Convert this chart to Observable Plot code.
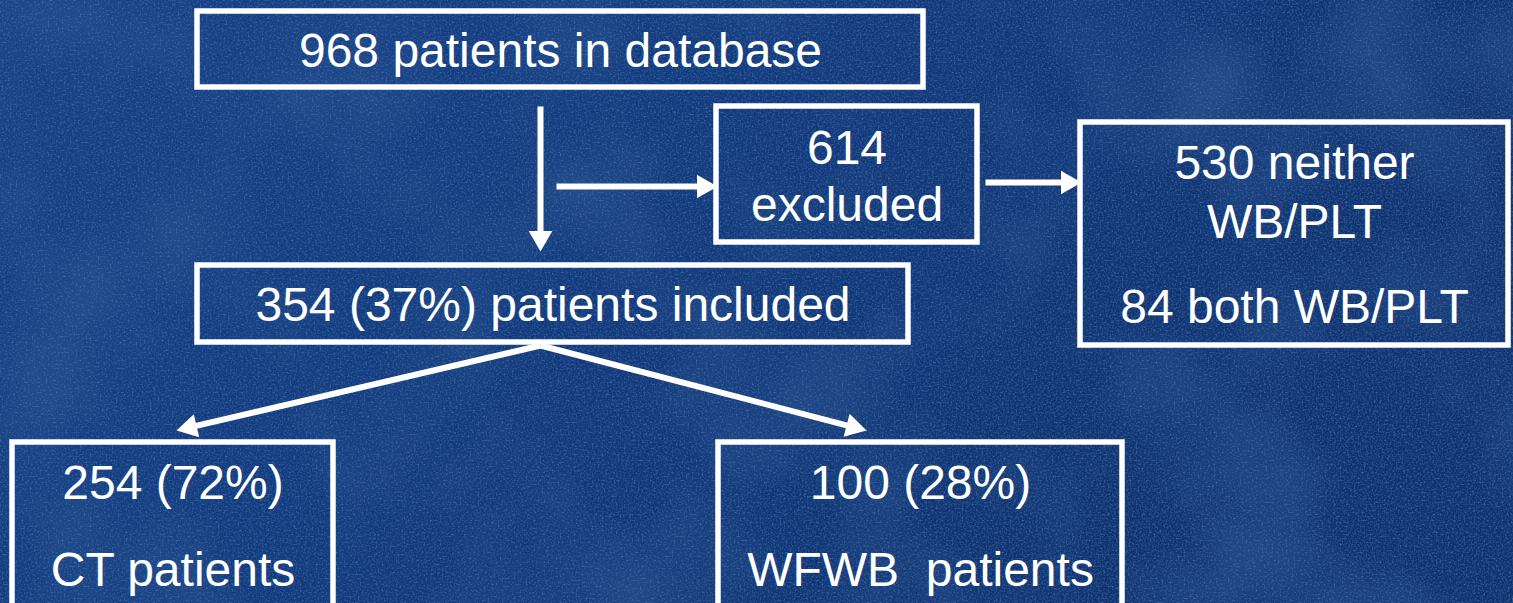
<!DOCTYPE html>
<html>
<head>
<meta charset="utf-8">
<script src="https://cdn.jsdelivr.net/npm/d3@7"></script>
<script src="https://cdn.jsdelivr.net/npm/@observablehq/plot@0.6"></script>
<style>
  html, body { margin: 0; padding: 0; overflow: hidden; background: #11367a; }
  #wrap { position: relative; width: 1513px; height: 603px; overflow: hidden; }
  #bg, #chart { position: absolute; left: 0; top: 0; }
</style>
</head>
<body>
<div id="wrap">
  <svg id="bg" width="1513" height="603">
    <defs>
      <linearGradient id="base" x1="0" y1="0" x2="1" y2="0.35">
        <stop offset="0" stop-color="#15418a"/>
        <stop offset="0.5" stop-color="#11397d"/>
        <stop offset="1" stop-color="#0f316d"/>
      </linearGradient>
      <filter id="mottle" x="0" y="0" width="100%" height="100%">
        <feTurbulence type="fractalNoise" baseFrequency="0.006" numOctaves="3" seed="7"/>
        <feColorMatrix type="matrix" values="0 0 0 0 0.03  0 0 0 0 0.1  0 0 0 0 0.3  2.2 0 0 0 -1.0"/>
      </filter>
      <filter id="dark" x="0" y="0" width="100%" height="100%">
        <feTurbulence type="fractalNoise" baseFrequency="0.55" numOctaves="3" seed="3"/>
        <feColorMatrix type="matrix" values="0 0 0 0 0.02  0 0 0 0 0.08  0 0 0 0 0.25  3 0 0 0 -1.25"/>
      </filter>
      <filter id="light" x="0" y="0" width="100%" height="100%">
        <feTurbulence type="fractalNoise" baseFrequency="0.5" numOctaves="3" seed="11"/>
        <feColorMatrix type="matrix" values="0 0 0 0 0.22  0 0 0 0 0.4  0 0 0 0 0.72  3 0 0 0 -1.6"/>
      </filter>
    </defs>
    <rect width="1513" height="603" fill="url(#base)"/>
    <rect width="1513" height="603" filter="url(#mottle)" opacity="0.7"/>
    <rect width="1513" height="603" filter="url(#dark)" opacity="0.85"/>
    <rect width="1513" height="603" filter="url(#light)" opacity="0.35"/>
  </svg>
  <div id="chart"></div>
</div>
<script>
// patient counts
const totalPatients = 968
const excludedPatients = 614
const neitherWbPlt = 530
const bothWbPlt = 84
const includedPatients = 354
const ctPatients = 254
const wfwbPatients = 100

const pct = (n, d) => Math.round(100 * n / d) + '%'

// text of each box, line by line
const boxText = [
  [`${totalPatients} patients in database`],
  [`${excludedPatients}`, 'excluded'],
  [`${neitherWbPlt} neither`, 'WB/PLT', `${bothWbPlt} both WB/PLT`],
  [`${includedPatients} (${pct(includedPatients, totalPatients)}) patients included`],
  [`${ctPatients} (${pct(ctPatients, includedPatients)})`, 'CT patients'],
  [`${wfwbPatients} (${pct(wfwbPatients, includedPatients)})`, 'WFWB\u00a0 patients'],
]

// layout of the diagram (pixel space)
const W = 1513, H = 603
const boxes = [
  { x1: 197, x2: 923, y1: 11, y2: 87, lines: [51] },
  { x1: 716, x2: 977, y1: 106, y2: 242, lines: [148, 205] },
  { x1: 1080, x2: 1508, y1: 122, y2: 345, lines: [163, 222, 307] },
  { x1: 197, x2: 908, y1: 265, y2: 342, lines: [305] },
  { x1: 12, x2: 333, y1: 442, y2: 640, lines: [483, 570] },
  { x1: 718, x2: 1122, y1: 442, y2: 640, lines: [483, 570] },
]
const arrows = [
  { x1: 540, y1: 106, x2: 540, y2: 251 },
  { x1: 556, y1: 186, x2: 717, y2: 186 },
  { x1: 985, y1: 182, x2: 1081, y2: 182 },
  { x1: 540, y1: 345, x2: 176, y2: 430 },
  { x1: 540, y1: 345, x2: 866, y2: 430 },
]

const headR = 8.8
const headOffset = headR / 0.371 * 0.577   // tip to centroid of triangle symbol
const arrowData = arrows.map(a => {
  const dx = a.x2 - a.x1, dy = a.y2 - a.y1, len = Math.hypot(dx, dy)
  const ux = dx / len, uy = dy / len
  return {
    ...a,
    lx: a.x2 - ux * (headOffset + 2), ly: a.y2 - uy * (headOffset + 2),
    hx: a.x2 - ux * headOffset, hy: a.y2 - uy * headOffset,
    angle: Math.atan2(dx, -dy) * 180 / Math.PI,
  }
})

const textRows = boxes.flatMap((b, i) => boxText[i].map((t, j) => ({
  x: (b.x1 + b.x2) / 2, y: b.lines[j], text: t,
})))

const chart = Plot.plot({
  width: W,
  height: H,
  margin: 0,
  x: { domain: [0, W], range: [0, W], axis: null },
  y: { domain: [0, H], range: [0, H], axis: null },
  style: { background: 'transparent' },
  marks: [
    Plot.rect(boxes, { x1: 'x1', x2: 'x2', y1: 'y1', y2: 'y2', fill: 'none', stroke: 'white', strokeWidth: 5.5 }),
    Plot.link(arrowData, { x1: 'x1', y1: 'y1', x2: 'lx', y2: 'ly', stroke: 'white', strokeWidth: 6, strokeLinecap: 'butt' }),
    Plot.dot(arrowData, { x: 'hx', y: 'hy', symbol: 'triangle', r: headR, fill: 'white', stroke: 'none', rotate: 'angle' }),
    Plot.text(textRows, {
      x: 'x', y: 'y', text: 'text', fill: 'white',
      fontSize: 48, fontFamily: '"Liberation Sans", Arial, sans-serif',
    }),
  ],
})
d3.select('#chart').append(() => chart)
</script>
</body>
</html>
